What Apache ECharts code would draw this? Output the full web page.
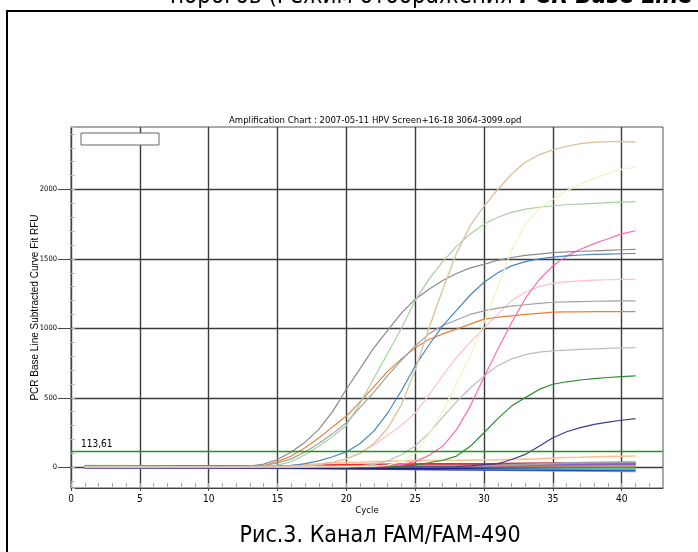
<!DOCTYPE html>
<html><head><meta charset="utf-8">
<script src="https://cdn.jsdelivr.net/npm/echarts@6/dist/echarts.min.js"></script>
<style>html,body{margin:0;padding:0;background:#fff}#c{width:698px;height:552px}</style>
</head><body><div id="c"></div>
<script>
// ---- data ----
const cycles = [1,2,3,4,5,6,7,8,9,10,11,12,13,14,15,16,17,18,19,20,21,22,23,24,25,26,27,28,29,30,31,32,33,34,35,36,37,38,39,40,41];
const xTickValues = [0,5,10,15,20,25,30,35,40];
const yTickValues = [0,500,1000,1500,2000];
const thresholdValue = 113.61;
const thresholdLabel = '113,61';

const tanCurve    = [3,3,2,2,3,3,2,3,3,3,4,4,5,5,6,8,12,20,35,60,100,170,280,450,700,1000,1280,1540,1740,1880,2000,2110,2197,2250,2285,2310,2330,2340,2345,2345,2342];
const yellowCurve = [2,2,2,2,2,2,2,2,2,2,2,2,2,2,2,2,2,3,3,4,5,8,15,40,100,240,400,600,800,1040,1300,1560,1750,1860,1930,1990,2040,2080,2115,2145,2160];
const greenCurve  = [2,2,2,2,2,2,2,2,2,2,2,2,3,6,15,40,90,150,220,300,460,640,820,1000,1200,1354,1480,1590,1680,1750,1800,1835,1858,1872,1883,1890,1895,1900,1905,1909,1912];
const grayCurve   = [3,3,3,3,3,3,3,3,3,3,3,3,8,22,55,110,180,272,400,561,710,860,985,1110,1210,1282,1345,1395,1435,1461,1490,1510,1525,1535,1545,1550,1555,1558,1562,1566,1569];
const blueCurve   = [2,2,2,2,2,2,2,2,2,2,2,2,2,2,5,12,25,45,75,110,170,260,390,550,729,880,1017,1130,1240,1332,1400,1450,1480,1500,1513,1522,1528,1532,1535,1537,1539];
const pinkCurve   = [3,3,3,3,3,3,3,3,3,3,3,3,3,3,3,3,3,3,3,3,3,3,10,20,40,85,150,270,440,650,850,1040,1215,1350,1450,1520,1570,1610,1645,1680,1703];
const gray2Curve  = [3,3,3,3,3,3,3,3,3,3,3,3,3,10,30,60,110,170,240,320,430,540,660,770,873,960,1020,1060,1100,1126,1145,1160,1170,1180,1188,1190,1193,1195,1196,1197,1198];
const orangeCurve = [4,4,4,4,4,4,4,4,4,4,4,5,6,10,40,80,140,210,290,368,470,580,690,780,860,920,960,994,1030,1066,1080,1090,1100,1108,1116,1118,1119,1120,1120,1121,1121];
const lpinkCurve  = [3,3,3,3,3,3,3,3,3,3,3,3,3,3,3,3,10,20,35,60,100,160,230,300,390,520,660,790,900,1000,1100,1200,1260,1300,1324,1335,1342,1347,1350,1352,1353];
const lgrayCurve  = [2,2,2,2,2,2,2,2,2,2,2,2,2,2,2,2,2,2,2,2,10,20,45,90,152,245,360,470,570,656,730,780,810,828,837,843,848,852,856,859,861];
const dgreenCurve = [0,0,0,0,0,0,0,0,0,0,0,0,0,0,0,0,0,1,2,3,4,5,6,8,15,32,50,80,150,248,350,440,501,560,597,615,628,638,646,652,657];
const navyCurve   = [-2,-2,-2,-2,-2,-2,-2,-2,-1,-1,-1,-1,-1,0,0,0,0,0,0,0,0,1,1,2,2,3,3,5,10,18,25,55,92,150,212,255,285,308,325,338,349];
const peachCurve  = [3,3,3,3,3,3,3,3,3,3,3,3,3,3,3,10,18,25,30,33,35,40,43,45,47,48,50,50,51,52,54,56,58,60,65,70,72,75,77,79,80];

const baseCycles = [1,6,11,16,21,26,31,36,41];
const baseRed      = [5,6,8,10,18,22,25,30,32];
const baseOlive    = [3,4,6,8,12,18,20,22,24];
const basePurple   = [-5,-3,-2,0,6,10,15,20,22];
const baseTeal     = [8,6,5,4,2,0,-2,-4,-5];
const baseCyan     = [-2,-1,0,-1,-3,-4,-4,0,0];
const baseBlue     = [-3,-2,-3,-5,-10,-15,-18,-20,-22];
const baseLblue    = [0,-2,-4,-8,-12,-16,-20,-25,-29];
const baseGreen    = [2,3,4,6,10,14,18,22,25];
const baseLime     = [4,5,6,8,14,20,15,12,10];
const baseBrown    = [6,8,9,8,6,4,3,2,2];
const baseMagenta  = [1,2,3,5,8,12,14,10,8];
const baseMint     = [10,8,6,4,3,2,1,0,-2];
const baseGray     = [4,4,5,6,8,10,12,30,36];
const baseSky      = [-1,-2,-2,-3,-5,-8,-10,-12,-15];
const baseDarkNavy = [-2,-3,-4,-6,-8,-10,-3,2,5];

// ---- chart ----
const NARROW = "'Liberation Sans Narrow','DejaVu Sans Condensed','Liberation Sans',sans-serif";
const REG = "'Liberation Sans',Arial,sans-serif";

function pairs(xs, ys){ return ys.map((v,i)=>[xs[i], v]); }
function curve(vals, color, w){
  return {type:'line', data:pairs(cycles, vals), symbol:'none', silent:true,
          lineStyle:{color:color, width:w||1.2}, z:3};
}
function base(vals, color){
  return {type:'line', data:pairs(baseCycles, vals), symbol:'none', silent:true,
          lineStyle:{color:color, width:2}, z:2};
}

const series = [
  base(baseLblue,'#8a96e6'), base(baseBlue,'#2a44d0'), base(baseSky,'#62a8e0'),
  base(baseCyan,'#10d0e0'), base(baseTeal,'#30a0a0'), base(baseMint,'#7fe0a0'),
  base(baseDarkNavy,'#202080'), base(baseBrown,'#c06030'), base(baseMagenta,'#b848c0'),
  base(baseLime,'#a8c820'), base(baseOlive,'#c8b820'), base(baseGreen,'#20b040'),
  base(basePurple,'#8a5ac8'), base(baseRed,'#e03030'), base(baseGray,'#a0a0a0'),
  curve(peachCurve,'#ffc090',1.6),
  curve(navyCurve,'#3c3c8e'),
  curve(dgreenCurve,'#2f8a2f'),
  curve(lgrayCurve,'#bdbdbd'),
  curve(lpinkCurve,'#ffc0cb'),
  curve(orangeCurve,'#e4803c'),
  curve(gray2Curve,'#a2a2a2'),
  curve(pinkCurve,'#ff6ab4'),
  curve(blueCurve,'#4a86c0'),
  curve(grayCurve,'#8a8a8a'),
  curve(greenCurve,'#a6d09e'),
  curve(yellowCurve,'#f4f2c0'),
  curve(tanCurve,'#dcc4a2',1.4)
];
series[0].markLine = {
  silent:true, symbol:'none', animation:false,
  lineStyle:{color:'#169a16', width:1.3, type:'solid'},
  label:{show:true, position:'insideStartTop', formatter:thresholdLabel,
         color:'#000', fontSize:10, fontFamily:NARROW, distance:[10,2]},
  data:[{yAxis:thresholdValue}]
};

const plain = v => String(v);

const option = {
  animation:false,
  backgroundColor:'#fff',
  title:{text:'Amplification Chart : 2007-05-11 HPV Screen+16-18 3064-3099.opd',
         left:224, top:111,
         textStyle:{fontSize:9.5, fontWeight:'normal', color:'#000', fontFamily:NARROW}},
  grid:{left:71, top:127, right:35, bottom:64, show:true, borderColor:'#555', borderWidth:1},
  xAxis:[
    {type:'value', min:0, max:43, interval:5,
     name:'Cycle', nameLocation:'middle', nameGap:18, nameMoveOverlap:false,
     nameTextStyle:{fontSize:9.5, color:'#000', fontFamily:NARROW},
     axisLine:{onZero:false, lineStyle:{color:'#444', width:1}},
     axisTick:{show:true, length:3, customValues:xTickValues, lineStyle:{color:'#444'}},
     axisLabel:{customValues:xTickValues, formatter:plain, fontSize:10, color:'#000', margin:6, fontFamily:NARROW},
     splitLine:{show:true, lineStyle:{color:'#3c3c3c', width:1.4}}},
    {type:'value', min:0, max:43, interval:1, position:'bottom',
     axisLine:{show:false, onZero:false}, axisLabel:{show:false}, splitLine:{show:false},
     axisTick:{show:true, inside:true, length:5, lineStyle:{color:'#aaa'}}}
  ],
  yAxis:[
    {type:'value', min:-150, max:2450, splitNumber:5,
     name:'PCR Base Line Subtracted Curve Fit RFU', nameLocation:'middle', nameGap:31, nameMoveOverlap:false,
     nameTextStyle:{fontSize:10, color:'#000', fontFamily:REG},
     axisLine:{show:true, onZero:false, lineStyle:{color:'#444', width:1}},
     axisTick:{show:true, length:13, customValues:yTickValues, lineStyle:{color:'#444'}},
     axisLabel:{customValues:yTickValues, formatter:plain,
                fontSize:7.5, color:'#000', margin:14, fontFamily:NARROW},
     splitLine:{show:true, lineStyle:{color:'#3c3c3c', width:1.4}}},
    {type:'value', min:-150, max:2450, splitNumber:26, position:'left',
     axisLine:{show:false, onZero:false}, axisLabel:{show:false}, splitLine:{show:false},
     axisTick:{show:true, inside:true, length:4, lineStyle:{color:'#bbb'}}}
  ],
  series:series,
  graphic:[
    {type:'rect', shape:{x:7, y:11, width:720, height:600}, style:{fill:'none', stroke:'#000', lineWidth:2}, silent:true},
    {type:'rect', shape:{x:81, y:133, width:78, height:12}, style:{fill:'#fff', stroke:'#666', lineWidth:1}, silent:true, z:10},
    {type:'text', x:170, y:9, silent:true,
     style:{text:'порогов (Режим отображения {b|PCR Base Line}', fontSize:24, fontFamily:NARROW, fill:'#000',
            verticalAlign:'bottom',
            rich:{b:{fontSize:24, fontStyle:'italic', fontWeight:'bold', fontFamily:NARROW}}}},
    {type:'text', x:380, y:536, silent:true,
     style:{text:'Рис.3. Канал FAM/FAM-490', fontSize:23, fontFamily:NARROW, fill:'#000',
            align:'center', verticalAlign:'middle'}}
  ]
};
const chart = echarts.init(document.getElementById('c'), null, {renderer:'canvas'});
chart.setOption(option);
</script></body></html>
